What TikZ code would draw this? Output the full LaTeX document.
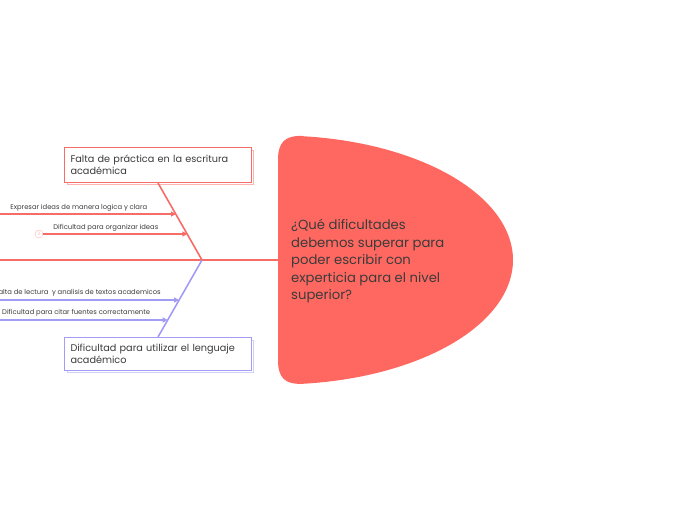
\documentclass[tikz,border=0pt]{standalone}
\usepackage{fontspec}
\setmainfont{Poppins}
\usetikzlibrary{arrows.meta,calc}

\definecolor{headred}{HTML}{FF6860}
\definecolor{linered}{HTML}{F66C66}
\definecolor{shadred}{HTML}{FFB4AF}
\definecolor{linepurple}{HTML}{A29CF6}
\definecolor{shadpurple}{HTML}{D2CFFB}
\definecolor{textgray}{HTML}{3B3B3B}

\begin{document}
\begin{tikzpicture}[x=1pt,y=-1pt,
    causebox/.style={draw=#1, line width=1pt, fill=white, anchor=north west,
        minimum width=187pt, text width=175pt, inner xsep=6pt, inner ysep=5pt,
        align=left, text=textgray, font=\fontsize{9.7}{12}\selectfont},
    bone/.style={draw=#1, line width=1.6pt},
    sub/.style={draw=#1, line width=1.2pt, -{Triangle[length=5pt,width=5pt]}},
    num/.style={draw=shadred, circle, inner sep=0pt, minimum size=8pt,
        text=shadred, font=\fontsize{4.5}{5}\selectfont},
    sublabel/.style={inner sep=0pt, anchor=base west, text=textgray,
        font=\fontsize{6.8}{7}\selectfont}]
    \useasboundingbox (0,0) rectangle (697,520);

    % Head
    \fill[headred] (278,160) .. controls (278,142) and (285,135.5) .. (302.6,135.9)
        -- plot[domain=84:-84, samples=90] ({278+235*cos(\x)},{260-124.5*sin(\x)})
        .. controls (285,384.5) and (278,378) .. (278,360) -- cycle;
    \node[inner sep=0pt, anchor=north west, align=left, text=textgray,
        font=\fontsize{13.2}{17.5}\selectfont] (question) at (291,219)
        {¿Qué dificultades\\debemos superar para\\poder escribir con\\experticia para el nivel\\superior?};

    % Spine
    \coordinate (tail) at (-5,260);
    \coordinate (joint) at (202,260);
    \coordinate (headleft) at (279,260);
    \draw[linepurple, line width=1pt] ([yshift=0.9pt]joint) -- ([yshift=0.9pt]headleft);
    \draw[linered, line width=1.6pt] (tail) -- (joint) -- (headleft);

    % Upper cause
    \fill[shadred] (67,150) rectangle (254,185);
    \fill[white] (68,151) rectangle (253,184);
    \node[causebox=linered, minimum height=35pt] (falta) at (64,147)
        {Falta de práctica en la escritura\\académica};
    \draw[bone=linered] (joint) -- (falta.south);
    \coordinate (f1) at ($(joint)!0.59!(falta.south)$);
    \coordinate (f2) at ($(joint)!0.333!(falta.south)$);
    \node[num] (n1) at (-4,214) {1};
    \node[num] (n2) at (39,234) {2};
    \draw[sub=linered] (n1) -- (f1 |- n1);
    \draw[sub=linered] (n2) -- (f2 |- n2);
    \node[sublabel] (e1) at ($(n1.east)+(10,-5)$) {Expresar ideas de manera logica y clara};
    \node[sublabel] (e2) at ($(n2.east)+(10,-5)$) {Dificultad para organizar ideas};

    % Lower cause
    \fill[shadpurple] (67,340) rectangle (254,373);
    \fill[white] (68,341) rectangle (253,372);
    \node[causebox=linepurple, minimum height=33pt] (dificultad) at (64,337)
        {Dificultad para utilizar el lenguaje\\académico};
    \draw[bone=linepurple] (joint) -- (dificultad.north);
    \coordinate (d1) at ($(joint)!0.52!(dificultad.north)$);
    \coordinate (d2) at ($(joint)!0.78!(dificultad.north)$);
    \coordinate (p1) at (-15,300);
    \coordinate (p2) at (-8,320);
    \draw[sub=linepurple] (p1) -- (d1 |- p1);
    \draw[sub=linepurple] (p2) -- (d2 |- p2);
    \node[sublabel] (l1) at ($(p1)+(10,-6)$) {Falta de lectura~ y analisis de textos academicos};
    \node[sublabel] (l2) at ($(p2)+(10,-6)$) {Dificultad para citar fuentes correctamente};
\end{tikzpicture}
\end{document}
